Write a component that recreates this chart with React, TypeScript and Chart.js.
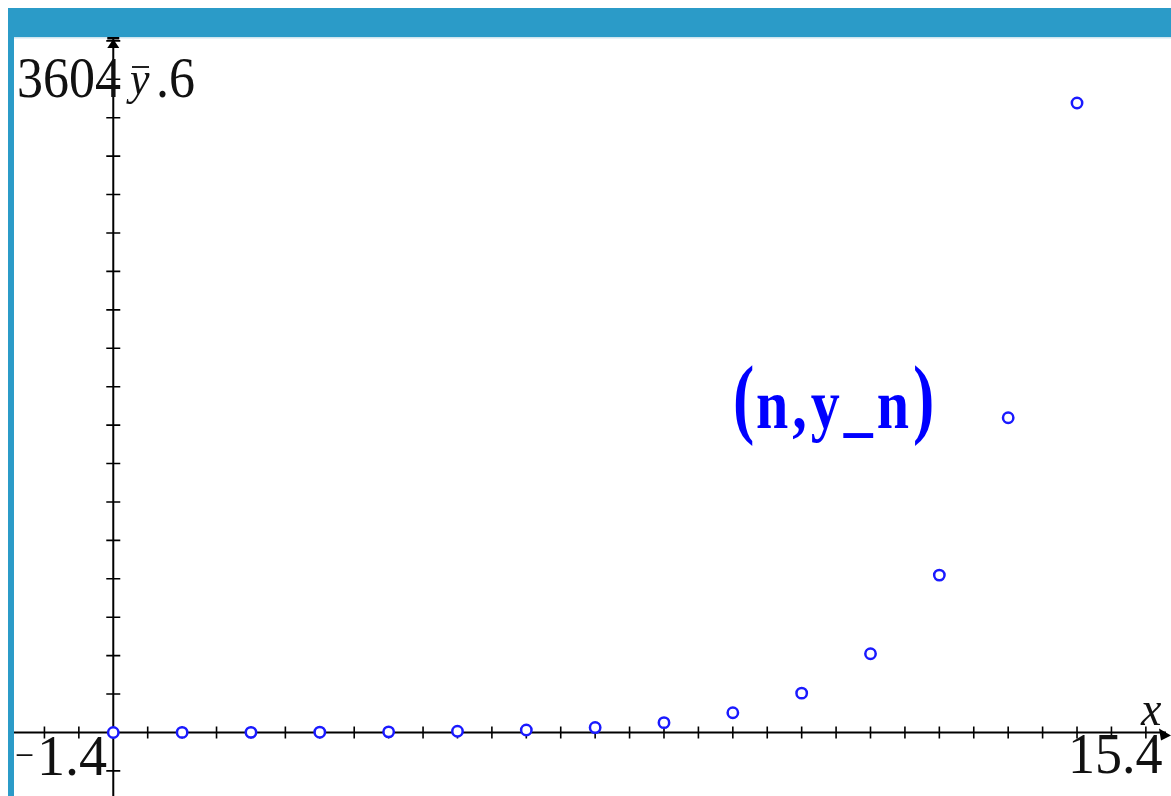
import React, { useEffect, useRef } from "react";
import { Chart, registerables } from "chart.js";

Chart.register(...registerables);

// ---- data ----
const nValues = [0, 1, 2, 3, 4, 5, 6, 7, 8, 9, 10, 11, 12, 13, 14];
const yValues = [0.2, 0.4, 0.8, 1.6, 3.2, 6.4, 12.8, 25.6, 51.2, 102.4, 204.8, 409.6, 819.2, 1638.4, 3276.8];

const xMin = -1.4;
const xMax = 15.4;
const yMin = -327.5;
const yMax = 3604.6;
const xTickStep = 0.5;
const yTickStep = 200;

const yMaxLabelA = "3604";
const yMaxLabelB = ".6";
const xMinSign = "⁻";
const xMinLabel = "1.4";
const xMaxLabel = "15.4";
const xAxisName = "x";
const yAxisName = "y";
const seriesLabel = "n,y_n";

const BAR = "#2b9bc8";
const POINT = "#1a1aff";

function drawText(
  ctx: CanvasRenderingContext2D,
  text: string,
  x: number,
  y: number,
  font: string,
  color: string,
  sx = 1,
  sy = 1,
  spacing = "0px"
) {
  ctx.save();
  ctx.translate(x, y);
  ctx.scale(sx, sy);
  ctx.font = font;
  (ctx as any).letterSpacing = spacing;
  ctx.fillStyle = color;
  ctx.textAlign = "left";
  ctx.textBaseline = "alphabetic";
  ctx.fillText(text, 0, 0);
  ctx.restore();
}

const framePlugin = {
  id: "tiframe",
  beforeDraw(chart: any) {
    const ctx = chart.ctx as CanvasRenderingContext2D;
    const W = chart.width;
    const H = chart.height;
    ctx.save();
    ctx.fillStyle = "#ffffff";
    ctx.fillRect(0, 0, W, H);
    ctx.fillStyle = BAR;
    ctx.fillRect(0, 0, W, 29);
    ctx.fillRect(0, 0, 6, H);
    ctx.fillStyle = "#cfe6f0";
    ctx.fillRect(6, 29, W, 1.5);
    ctx.restore();
  },
  beforeDatasetsDraw(chart: any) {
    const ctx = chart.ctx as CanvasRenderingContext2D;
    const xs = chart.scales.x;
    const ys = chart.scales.y;
    const x0 = xs.getPixelForValue(0);
    const y0 = ys.getPixelForValue(0);
    const H = chart.height;
    ctx.save();
    ctx.strokeStyle = "#000";
    ctx.fillStyle = "#000";
    // axes
    ctx.lineWidth = 2;
    ctx.beginPath();
    ctx.moveTo(x0, 30);
    ctx.lineTo(x0, H);
    ctx.moveTo(6, y0);
    ctx.lineTo(1158, y0);
    ctx.stroke();
    // ticks
    ctx.lineWidth = 1.6;
    ctx.beginPath();
    for (let v = Math.ceil(xMin / xTickStep) * xTickStep; v <= xMax; v += xTickStep) {
      if (Math.abs(v) < 1e-9) continue;
      const p = xs.getPixelForValue(v);
      ctx.moveTo(p, y0 - 6);
      ctx.lineTo(p, y0 + 6);
    }
    for (let v = Math.ceil(yMin / yTickStep) * yTickStep; v <= yMax; v += yTickStep) {
      if (Math.abs(v) < 1e-9) continue;
      const p = ys.getPixelForValue(v);
      ctx.moveTo(x0 - 7, p);
      ctx.lineTo(x0 + 7, p);
    }
    ctx.stroke();
    // top arrow
    ctx.fillRect(x0 - 6, 29, 12, 2.5);
    ctx.beginPath();
    ctx.moveTo(x0, 31);
    ctx.lineTo(x0 - 6, 40);
    ctx.lineTo(x0 + 6, 40);
    ctx.closePath();
    ctx.fill();
    // right arrow
    ctx.beginPath();
    ctx.moveTo(1163, y0 + 3);
    ctx.lineTo(1151, y0 - 4);
    ctx.lineTo(1153, y0 + 8);
    ctx.closePath();
    ctx.fill();
    ctx.restore();
  },
  afterDatasetsDraw(chart: any) {
    const ctx = chart.ctx as CanvasRenderingContext2D;
    const serif = '"Liberation Serif", "Times New Roman", serif';
    // window labels
    drawText(ctx, yMaxLabelA, 9, 89, `52px ${serif}`, "#111", 1, 1.1);
    drawText(ctx, yMaxLabelB, 148, 89, `52px ${serif}`, "#111", 1, 1.1);
    drawText(ctx, yAxisName, 122, 86, `italic 44px ${serif}`, "#111", 1, 1.05);
    ctx.save();
    ctx.fillStyle = "#222";
    ctx.fillRect(124, 58, 17, 2);
    ctx.restore();
    drawText(ctx, xMinSign, 6, 767, `40px "DejaVu Serif", serif`, "#111", 1, 1);
    drawText(ctx, xMinLabel, 29, 767, `52px ${serif}`, "#111", 1.08, 1.1);
    drawText(ctx, xMaxLabel, 1060, 765, `52px ${serif}`, "#111", 1.04, 1.1);
    drawText(ctx, xAxisName, 1133, 717, `italic 46px ${serif}`, "#111", 1, 1.05);
    // series label
    drawText(ctx, "(", 725, 419, `bold 64px ${serif}`, "#0000ff", 1, 1.4);
    drawText(ctx, seriesLabel, 748, 420, `bold 58px ${serif}`, "#0000ff", 1, 1.2, "4px");
    drawText(ctx, ")", 905, 419, `bold 64px ${serif}`, "#0000ff", 1, 1.4);
  },
};

export default function App() {
  const ref = useRef<HTMLCanvasElement | null>(null);
  useEffect(() => {
    if (!ref.current) return;
    const chart = new Chart(ref.current, {
      type: "scatter",
      data: {
        datasets: [
          {
            label: "(n,y_n)",
            data: nValues.map((n, i) => ({ x: n, y: yValues[i] })),
            pointStyle: "circle",
            pointRadius: 5.2,
            pointBorderWidth: 2.5,
            pointBorderColor: POINT,
            pointBackgroundColor: "#ffffff",
            showLine: false,
          },
        ],
      },
      options: {
        responsive: false,
        animation: false,
        events: [],
        layout: { autoPadding: false, padding: { left: 8.9, right: 4.6, top: 32, bottom: 0.6 } },
        plugins: { legend: { display: false }, tooltip: { enabled: false } },
        scales: {
          x: { type: "linear", min: xMin, max: xMax, display: false },
          y: { type: "linear", min: yMin, max: yMax, display: false },
        },
      },
      plugins: [framePlugin],
    });
    return () => chart.destroy();
  }, []);
  return (
    <div
      style={{
        position: "fixed",
        left: 8,
        top: 8,
        width: 1163,
        height: 788,
        overflow: "hidden",
        background: "#fff",
      }}
    >
      <canvas ref={ref} width={1170} height={788} style={{ display: "block", width: 1170, height: 788 }} />
    </div>
  );
}
